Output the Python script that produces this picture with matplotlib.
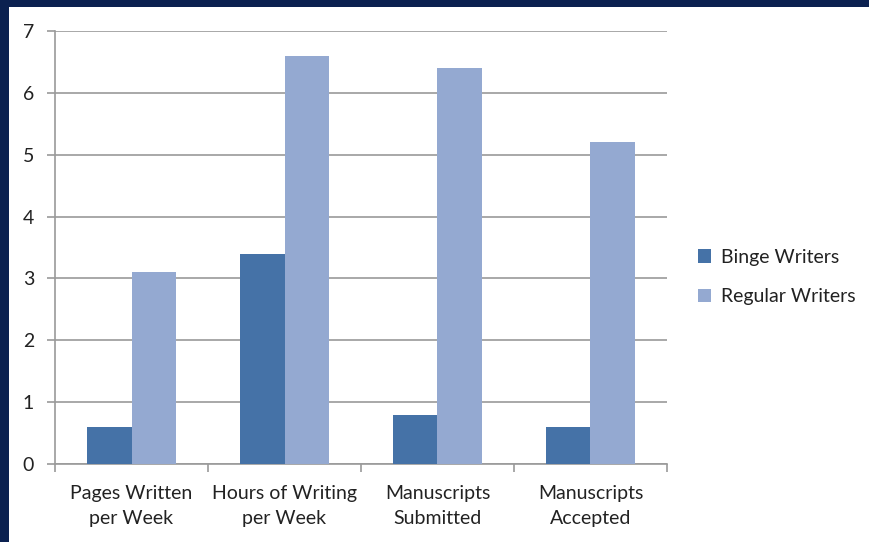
import matplotlib
matplotlib.use("Agg")
import matplotlib.pyplot as plt
import numpy as np
from matplotlib.patches import Rectangle, Patch

categories = ["Pages Written\nper Week", "Hours of Writing\nper Week", "Manuscripts\nSubmitted", "Manuscripts\nAccepted"]
binge = [0.6, 3.4, 0.8, 0.6]
regular = [3.1, 6.6, 6.4, 5.2]
series_names = ["Binge Writers", "Regular Writers"]
yticks = [0, 1, 2, 3, 4, 5, 6, 7]

plt.rcParams['font.family'] = ['Lato', 'DejaVu Sans']

fig = plt.figure(figsize=(8.7, 5.42), dpi=100)
fig.patch.set_facecolor("#0B2150")
fig.add_artist(Rectangle((9/870, 0), 1, 1 - 7/542, transform=fig.transFigure,
                         facecolor="white", edgecolor="none", zorder=0))

ax = fig.add_axes([55/870, 1 - 464/542, 612/870, 433/542])
ax.set_facecolor("none")
c1, c2 = "#4572A7", "#94A9D1"
x = np.arange(len(categories))
w = 0.29
ax.bar(x - w/2, binge, width=w, color=c1, zorder=3)
ax.bar(x + w/2, regular, width=w, color=c2, zorder=3)

ax.set_xlim(-0.5, len(categories) - 0.5)
ax.set_ylim(0, 7)
ax.set_yticks(yticks)
ax.set_yticklabels([str(v) for v in yticks], fontsize=14, color="#222222")
ax.yaxis.grid(True, color="#9A9A9A", linewidth=1.2, zorder=0)
ax.set_axisbelow(True)
ax.tick_params(axis="y", length=6, color="#9A9A9A", width=1.2, pad=9)

ax.set_xticks(np.arange(len(categories) + 1) - 0.5)
ax.set_xticklabels([])
ax.set_xticks(x, minor=True)
ax.set_xticklabels(categories, minor=True, fontsize=14, color="#222222", linespacing=1.6)
ax.tick_params(axis="x", which="major", length=6, color="#9A9A9A", width=1.2)
ax.tick_params(axis="x", which="minor", length=0, pad=15)

for s in ["top", "right"]:
    ax.spines[s].set_visible(False)
for s in ["left", "bottom"]:
    ax.spines[s].set_color("#9A9A9A")
    ax.spines[s].set_linewidth(1.2)

handles = [Patch(facecolor=c1, label=series_names[0]), Patch(facecolor=c2, label=series_names[1])]
leg = fig.legend(handles=handles, loc="center left", bbox_to_anchor=(680/870, 1 - 277/542),
                 frameon=False, fontsize=14, handlelength=0.7, handleheight=0.7,
                 handletextpad=0.5, labelspacing=1.15)
for t in leg.get_texts():
    t.set_color("#222222")

fig.savefig("out.png", dpi=100, facecolor=fig.get_facecolor())
